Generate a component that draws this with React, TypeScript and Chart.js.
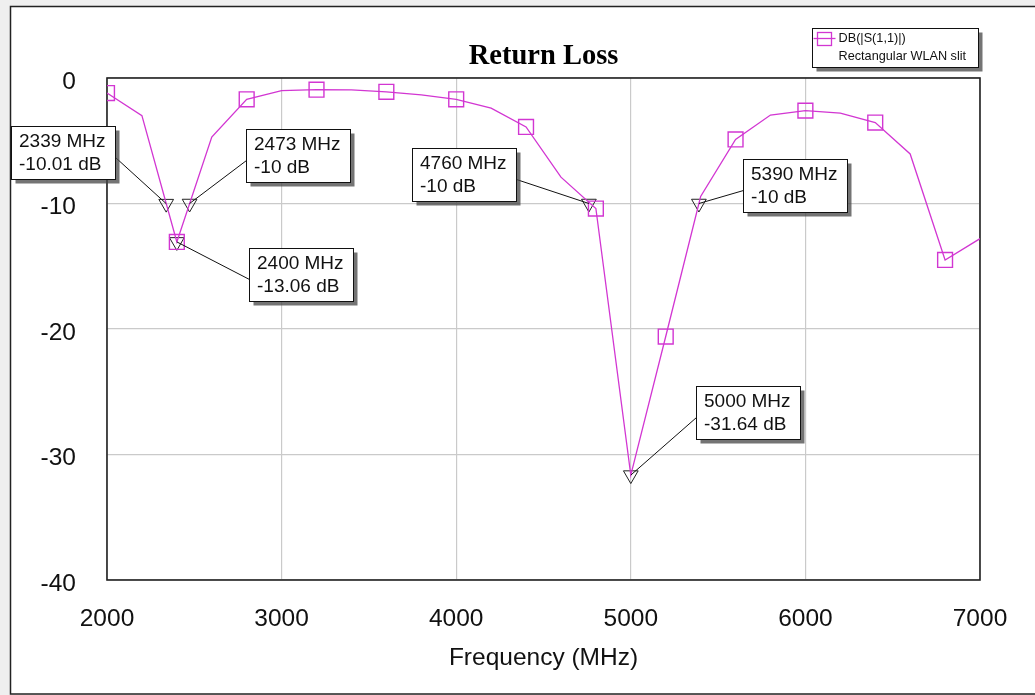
import React, { useEffect, useRef } from "react";
import { Chart, registerables } from "chart.js";

Chart.register(...registerables);

// ---- Data ----
const freqs = [2000, 2200, 2400, 2600, 2800, 3000, 3200, 3400, 3600, 3800, 4000, 4200, 4400, 4600, 4800, 5000, 5200, 5400, 5600, 5800, 6000, 6200, 6400, 6600, 6800, 7000];
const s11dB = [-1.2, -3.0, -13.06, -4.7, -1.7, -1.0, -0.93, -0.95, -1.1, -1.35, -1.7, -2.4, -3.9, -7.9, -10.4, -31.64, -20.6, -9.44, -4.9, -2.95, -2.6, -2.8, -3.55, -6.05, -14.5, -12.8];
const symbolStep = 400; // square symbols every 400 MHz

const markerFreqs = [2339, 2473, 2400, 4760, 5390, 5000];
const markerValues = [-10.01, -10, -13.06, -10, -10, -31.64];

const xTicks = [2000, 3000, 4000, 5000, 6000, 7000];
const yTicks = [0, -10, -20, -30, -40];

const seriesLabel = "DB(|S(1,1)|)";
const seriesDoc = "Rectangular WLAN slit";
const chartTitle = "Return Loss";
const xTitle = "Frequency (MHz)";

// callout box offsets relative to marker pixel (layout only)
const calloutOffsets = [
  { dx: -155, dy: -78, side: "right" },
  { dx: 56, dy: -75, side: "left" },
  { dx: 72, dy: 6, side: "left" },
  { dx: -177, dy: -56, side: "right" },
  { dx: 44, dy: -45, side: "left" },
  { dx: 65, dy: -89, side: "left" },
];

const MAG = "#d236d2";
const SANS = "'Liberation Sans', Arial, sans-serif";

const fmt = (v: number) => {
  const r = Math.round(v * 100) / 100;
  return String(r);
};

const framePlugin = {
  id: "frame",
  beforeDraw(chart: any) {
    const { ctx, width, height } = chart;
    ctx.save();
    ctx.fillStyle = "#efefef";
    ctx.fillRect(0, 0, width, height);
    ctx.fillStyle = "#ffffff";
    ctx.fillRect(10, 6, width, 688);
    ctx.strokeStyle = "#222";
    ctx.lineWidth = 1.5;
    ctx.strokeRect(10.5, 6.5, width + 10, 687.5);
    ctx.restore();
  },
  beforeDatasetsDraw(chart: any) {
    const { ctx, chartArea: a } = chart;
    ctx.save();
    ctx.strokeStyle = "#222";
    ctx.lineWidth = 1.6;
    ctx.strokeRect(a.left, a.top, a.right - a.left, a.bottom - a.top);
    ctx.restore();
  },
  afterDraw(chart: any) {
    const { ctx, chartArea: a } = chart;
    const xs = chart.scales.x;
    const ys = chart.scales.y;
    ctx.save();
    // callouts
    const bw = 104, bh = 53;
    markerFreqs.forEach((f, i) => {
      const px = xs.getPixelForValue(f);
      const py = ys.getPixelForValue(markerValues[i]);
      const o = calloutOffsets[i];
      const bx = Math.round(px + o.dx) + 0.5;
      const by = Math.round(py + o.dy) + 0.5;
      const ax = o.side === "right" ? bx + bw : bx;
      const ay = by + 31;
      ctx.strokeStyle = "#111";
      ctx.lineWidth = 1;
      ctx.beginPath();
      ctx.moveTo(ax, ay);
      ctx.lineTo(px, py);
      ctx.stroke();
      ctx.fillStyle = "rgba(70,70,70,0.75)";
      ctx.fillRect(bx + 4, by + 4, bw, bh);
      ctx.fillStyle = "#fff";
      ctx.fillRect(bx, by, bw, bh);
      ctx.strokeStyle = "#111";
      ctx.strokeRect(bx, by, bw, bh);
      ctx.fillStyle = "#111";
      ctx.font = `19px ${SANS}`;
      ctx.textBaseline = "middle";
      ctx.textAlign = "left";
      ctx.fillText(`${f} MHz`, bx + 7.5, by + 15);
      ctx.fillText(`${fmt(markerValues[i])} dB`, bx + 7.5, by + 38);
    });
    // legend
    const lw = 166, lh = 39;
    const lx = Math.round(a.right - 2 - lw) + 0.5;
    const ly = Math.round(a.top - 50) + 0.5;
    ctx.fillStyle = "rgba(70,70,70,0.75)";
    ctx.fillRect(lx + 4, ly + 4, lw, lh);
    ctx.fillStyle = "#fff";
    ctx.fillRect(lx, ly, lw, lh);
    ctx.strokeStyle = "#111";
    ctx.lineWidth = 1;
    ctx.strokeRect(lx, ly, lw, lh);
    ctx.strokeStyle = MAG;
    ctx.lineWidth = 1.3;
    ctx.beginPath();
    ctx.moveTo(lx + 1, ly + 10);
    ctx.lineTo(lx + 23, ly + 10);
    ctx.stroke();
    ctx.strokeRect(lx + 5, ly + 4, 14, 13);
    ctx.fillStyle = "#111";
    ctx.font = `12.7px ${SANS}`;
    ctx.textBaseline = "middle";
    ctx.fillText(chart.data.datasets[0].label, lx + 26, ly + 10);
    ctx.fillText(seriesDoc, lx + 26, ly + 28);
    ctx.restore();
  },
};

export default function App() {
  const ref = useRef<HTMLCanvasElement | null>(null);
  useEffect(() => {
    if (!ref.current) return;
    const lineData = freqs.map((f, i) => ({ x: f, y: s11dB[i] }));
    const symData = lineData.filter((p) => (p.x - freqs[0]) % symbolStep === 0);
    const mkData = markerFreqs.map((f, i) => ({ x: f, y: markerValues[i] }));
    const chart = new Chart(ref.current, {
      type: "scatter",
      data: {
        datasets: [
          {
            label: seriesLabel,
            data: lineData,
            showLine: true,
            borderColor: MAG,
            borderWidth: 1.3,
            pointRadius: 0,
            tension: 0,
          },
          {
            label: "symbols",
            data: symData,
            showLine: false,
            pointStyle: "rect",
            pointRadius: 10.5,
            pointBorderColor: MAG,
            pointBackgroundColor: "rgba(0,0,0,0)",
            pointBorderWidth: 1.4,
          },
          {
            label: "markers",
            data: mkData,
            showLine: false,
            pointStyle: "triangle",
            rotation: 180,
            pointRadius: 8.5,
            pointBorderColor: "#222",
            pointBackgroundColor: "rgba(0,0,0,0)",
            pointBorderWidth: 1,
          } as any,
        ],
      },
      options: {
        responsive: false,
        animation: false,
        devicePixelRatio: 1,
        layout: { padding: { left: 0, right: 55, top: 0, bottom: 0 } },
        plugins: {
          legend: { display: false },
          tooltip: { enabled: false },
          title: {
            display: true,
            text: chartTitle,
            fullSize: false,
            color: "#000",
            font: { family: "'Liberation Serif', 'Times New Roman', serif", size: 28.5, weight: "bold" },
            padding: { top: 40, bottom: 3.8 },
          },
        },
        scales: {
          x: {
            type: "linear",
            min: 2000,
            max: 7000,
            afterBuildTicks: (s: any) => {
              s.ticks = xTicks.map((v) => ({ value: v }));
            },
            afterFit: (s: any) => {
              s.height = 115;
            },
            ticks: {
              color: "#111",
              font: { family: SANS, size: 24.5 },
              padding: 25,
              maxRotation: 0,
              autoSkip: false,
              callback: (v: any) => String(v),
            },
            grid: { color: "#cacaca", lineWidth: 1.2, drawTicks: false },
            border: { display: false },
            title: {
              display: true,
              text: xTitle,
              color: "#111",
              font: { family: SANS, size: 24.5 },
              padding: { top: 0, bottom: 22 },
            },
          },
          y: {
            type: "linear",
            min: -40,
            max: 0,
            afterBuildTicks: (s: any) => {
              s.ticks = yTicks.map((v) => ({ value: v }));
            },
            afterFit: (s: any) => {
              s.width = 107;
            },
            ticks: {
              color: "#111",
              font: { family: SANS, size: 24.5 },
              padding: 31,
              labelOffset: 4,
              autoSkip: false,
              callback: (v: any) => String(v),
            },
            grid: { color: "#cacaca", lineWidth: 1.2, drawTicks: false },
            border: { display: false },
          },
        },
      },
      plugins: [framePlugin],
    });
    return () => chart.destroy();
  }, []);
  return (
    <div style={{ position: "fixed", left: 0, top: 0, width: 1035, height: 695 }}>
      <canvas ref={ref} width={1035} height={695} style={{ display: "block" }} />
    </div>
  );
}
